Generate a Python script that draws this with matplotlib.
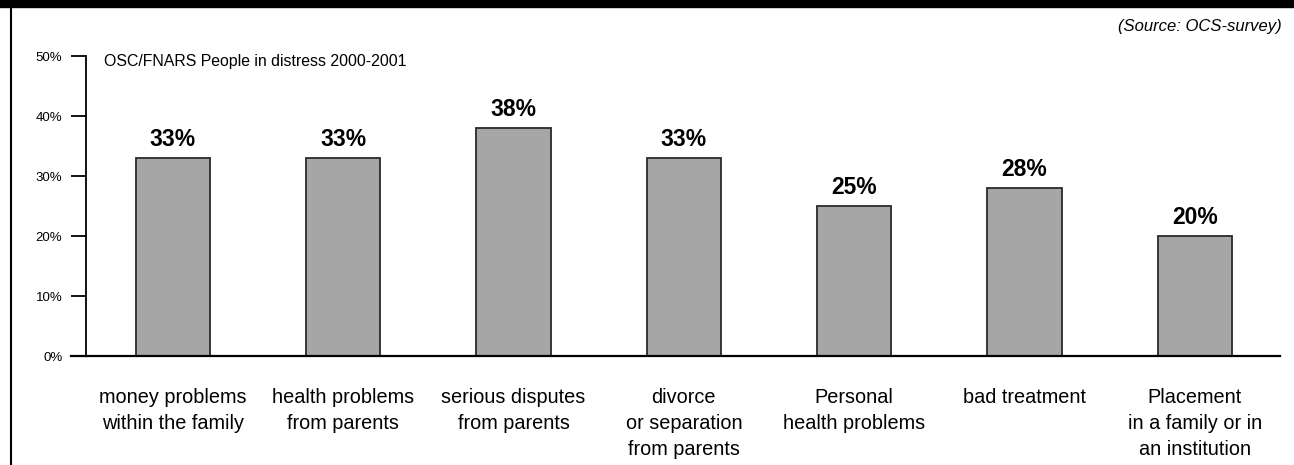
import matplotlib.pyplot as plt
from matplotlib.lines import Line2D
from matplotlib.patches import Rectangle

# reasons for leaving home, share of people in distress
categories = [
    "money problems\nwithin the family",
    "health problems\nfrom parents",
    "serious disputes\nfrom parents",
    "divorce\nor separation\nfrom parents",
    "Personal\nhealth problems",
    "bad treatment",
    "Placement\nin a family or in\nan institution",
]
values = [33, 33, 38, 33, 25, 28, 20]
yticks = [0, 10, 20, 30, 40, 50]

plt.rcParams['font.family'] = ['Liberation Sans', 'DejaVu Sans']

W, H = 1294, 465
fig = plt.figure(figsize=(W / 100, H / 100), dpi=100)
ax = fig.add_axes([86 / W, 1 - 356 / H, (1280 - 86) / W, 300 / H])

x = list(range(len(values)))
ax.bar(x, values, width=0.435, color='#a6a6a6', edgecolor='#2a2a2a',
       linewidth=1.3, zorder=2)
for xi, v in zip(x, values):
    ax.annotate(f"{v}%", (xi, v), xytext=(0, 5), textcoords='offset points',
                ha='center', va='bottom', fontsize=16.5, fontweight='bold')

ax.set_xlim(-0.51, 6.5)
ax.set_ylim(0, 50)
ax.set_yticks(yticks)
ax.set_yticklabels([f"{t}%" for t in yticks], fontsize=9.5)
ax.set_xticks(x)
ax.set_xticklabels(categories, fontsize=14.3, linespacing=1.48)

for s in ['top', 'right']:
    ax.spines[s].set_visible(False)
ax.spines['left'].set_linewidth(1.3)
ax.spines['bottom'].set_linewidth(1.6)
ax.spines['bottom'].set_zorder(3)
ax.tick_params(axis='y', direction='out', length=11, width=1.3, pad=6)
ax.tick_params(axis='x', length=0, pad=23)

# extend the baseline to the left under the 0% tick
ax.add_line(Line2D([-0.6, -0.51], [0, 0], color='black', linewidth=1.6,
                   transform=ax.transData, clip_on=False))

ax.text(0.015, 0.982, "OSC/FNARS People in distress 2000-2001",
        transform=ax.transAxes, ha='left', va='center', fontsize=11.4)

fig.text(1282 / W, 1 - 27 / H, "(Source: OCS-survey)", ha='right',
         va='center', fontsize=12, style='italic')

# header band and left frame line
fig.add_artist(Rectangle((0, 1 - 7 / H), 1, 7 / H, transform=fig.transFigure,
                         color='black'))
fig.add_artist(Line2D([11 / W, 11 / W], [0, 1], transform=fig.transFigure,
                      color='black', linewidth=1.5))

fig.savefig('out.png', dpi=100)
